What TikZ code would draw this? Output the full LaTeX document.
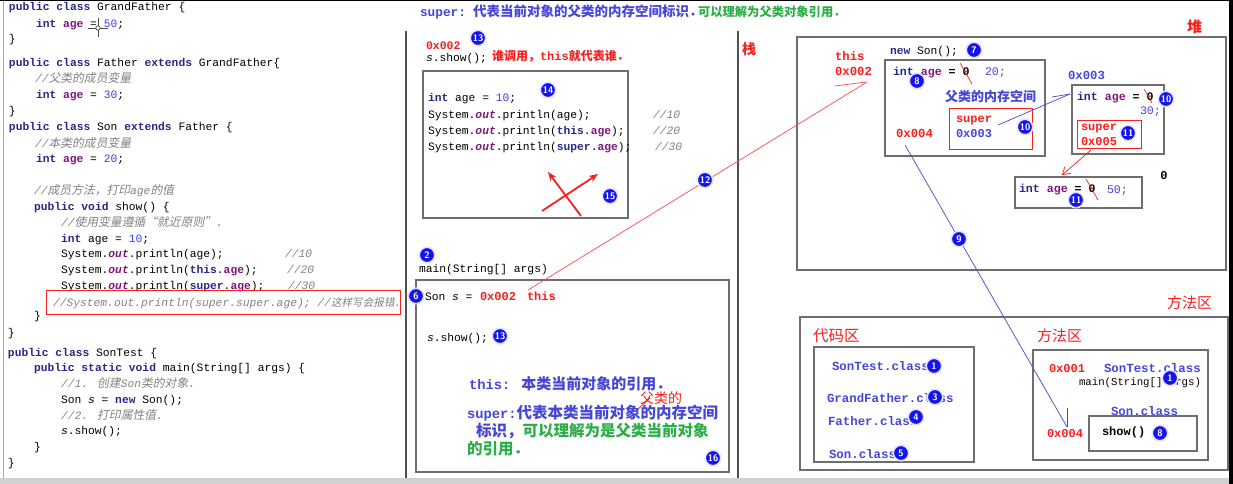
\documentclass[tikz,border=0pt]{standalone}
\usepackage{fontspec}
\setmainfont{Liberation Mono}
\newfontfamily\zh{Noto Sans CJK SC}
\newfontfamily\zhit[FakeSlant=0.2]{Noto Sans CJK SC}
\usetikzlibrary{arrows.meta}
\definecolor{kwc}{RGB}{40,40,140}
\definecolor{flc}{RGB}{128,20,128}
\definecolor{nmc}{RGB}{60,60,255}
\definecolor{cmc}{RGB}{130,130,130}
\definecolor{redA}{RGB}{250,30,30}
\definecolor{bluA}{RGB}{70,70,215}
\definecolor{grnA}{RGB}{40,175,70}
\definecolor{bdg}{RGB}{20,20,235}
\definecolor{frm}{RGB}{110,110,110}
\definecolor{pln}{RGB}{80,80,80}
\newcommand\Ckw[1]{{\color{kwc}\bfseries #1}}
\newcommand\Cfl[1]{{\color{flc}\bfseries #1}}
\newcommand\Cnm[1]{{\color{nmc}#1}}
\newcommand\Cout{{\color{flc}\bfseries\itshape out}}
\newcommand\Ccm[1]{{\color{cmc}\itshape #1}}
\newcommand\Czh[1]{{\zhit\fontsize{11.8}{13}\selectfont #1}}
\newcommand\Czhs[1]{{\zhit\fontsize{10.6}{13}\selectfont #1}}
\newcommand\fs[1]{\fontsize{#1}{#1}\selectfont}
\begin{document}
\begin{tikzpicture}[x=1pt,y=-1pt,
  T/.style={anchor=base west, inner sep=0pt, outer sep=0pt},
  code/.style={T, font=\fs{11.3}},
  hp/.style={T, font=\fs{11.6}\bfseries},
  badge/.style={circle, fill=bdg, text=white, draw=bdg!12, line width=1.6pt,
    minimum size=15.5pt, inner sep=0pt, font=\fs{9.5}\sffamily\bfseries},
  frame/.style={draw=frm, line width=1.1pt},
  redbox/.style={draw=redA, line width=0.9pt},
  rt/.style={T, text=redA},
  bt/.style={T, text=bluA},
  gt/.style={T, text=grnA}]
\useasboundingbox (0,0) rectangle (1233,484);
\fill[white] (0,0) rectangle (1233,484);
% screenshot frame
\fill[black] (0,0) rectangle (1233,1.5);
\fill[black] (1229,0) rectangle (1233,484);
\fill[black!18] (0,478) rectangle (1229,484);
\draw[black!35, line width=0.8pt] (3,1.5) -- (3,478);
\draw[pln, line width=1.1pt] (406,31) -- (406,478);
\draw[pln, line width=1.1pt] (738,31) -- (738,478);

% ---------------- left code ----------------
\node[code] (c1) at (9,11) {\Ckw{public class} GrandFather \{};
\node[code] (c2) at (36,28) {\Ckw{int} \Cfl{age} = \Cnm{50};};
\node[code] (c3) at (9,43) {\}};
\node[code] (c4) at (9,67) {\Ckw{public class} Father \Ckw{extends} GrandFather\{};
\node[code] (c5) at (35,83) {\Ccm{//\Czh{父类的成员变量}}};
\node[code] (c6) at (36,99) {\Ckw{int} \Cfl{age} = \Cnm{30};};
\node[code] (c7) at (9,114) {\}};
\node[code] (c8) at (9,130) {\Ckw{public class} Son \Ckw{extends} Father \{};
\node[code] (c9) at (35,147) {\Ccm{//\Czh{本类的成员变量}}};
\node[code] (c10) at (36,162) {\Ckw{int} \Cfl{age} = \Cnm{20};};
\node[code] (c11) at (34,194) {\Ccm{//\Czh{成员方法，打印}age\Czh{的值}}};
\node[code] (c12) at (34,210) {\Ckw{public void} show() \{};
\node[code] (c13) at (61,226) {\Ccm{//\Czh{使用变量遵循“就近原则”．}}};
\node[code] (c14) at (61,242) {\Ckw{int} age = \Cnm{10};};
\node[code] (c15) at (61,257) {System.\Cout.println(age);};
\node[code] (c15b) at (285,257) {\Ccm{//10}};
\node[code] (c16) at (61,273) {System.\Cout.println(\Ckw{this}.\Cfl{age});};
\node[code] (c16b) at (287,273) {\Ccm{//20}};
\node[code] (c17) at (61,289) {System.\Cout.println(\Ckw{super}.\Cfl{age});};
\node[code] (c17b) at (288,289) {\Ccm{//30}};
\node[code] (c18) at (53,306) {\Ccm{//System.out.println(super.super.age); //\Czhs{这样写会报错．}}};
\draw[redbox] (46,290) rectangle (400,314);
\node[code] (c19) at (34,319) {\}};
\node[code] (c20) at (8,336) {\}};
\node[code] (c21) at (8,356) {\Ckw{public class} SonTest \{};
\node[code] (c22) at (34,371) {\Ckw{public static void} main(String[] args) \{};
\node[code] (c23) at (61,387) {\Ccm{//1. \Czh{创建}Son\Czh{类的对象．}}};
\node[code] (c24) at (61,403) {Son \textit{s} = \Ckw{new} Son();};
\node[code] (c25) at (61,419) {\Ccm{//2. \Czh{打印属性值．}}};
\node[code] (c26) at (61,434) {\textit{s}.show();};
\node[code] (c27) at (34,450) {\}};
\node[code] (c28) at (8,466) {\}};
% mouse cursor
\draw[white, line width=2.4pt] (98,18) -- (98,37) (88,28) -- (108,28);
\draw[black!70, line width=0.9pt] (98,18) -- (98,37) (88,28) -- (108,28);
\draw[black!70, fill=white, line width=0.7pt] (98,28) circle (2.2pt);

% ---------------- top caption ----------------
\node[T, text=bluA, font=\fs{12.8}\bfseries] (top1) at (420,17) {super:};
\node[T, text=bluA, font=\zh\fs{13.5}\bfseries] (top2) at (473,17) {代表当前对象的父类的内存空间标识．};
\node[T, text=grnA, font=\zh\fs{12.3}\bfseries] (top3) at (698,17) {可以理解为父类对象引用．};

% ---------------- middle (stack) ----------------
\node[rt, font=\fs{11.5}\bfseries] (sa) at (426,50) {0x002};
\node[badge] (b13a) at (478,38) {13};
\node[code] (ss1) at (426,62) {\textit{s}.show();};
\node[rt, font=\zh\fs{12}\bfseries] (who) at (492,61) {谁调用，{\rmfamily this}就代表谁．};
\draw[frame] (423,71) rectangle (628,218);
\node[badge] (b14) at (548,90) {14};
\node[code] (m1) at (428,102) {\Ckw{int} age = \Cnm{10};};
\node[code] (m2) at (428,118) {System.\Cout.println(age);};
\node[code] (m3) at (428,134) {System.\Cout.println(\Ckw{this}.\Cfl{age});};
\node[code] (m4) at (428,150) {System.\Cout.println(\Ckw{super}.\Cfl{age});};
\node[code] (m2b) at (653,118) {\Ccm{//10}};
\node[code] (m3b) at (653,134) {\Ccm{//20}};
\node[code] (m4b) at (655,150) {\Ccm{//30}};
\coordinate (ar1a) at (542,211); \coordinate (ar1b) at (598,174);
\coordinate (ar2a) at (581,216); \coordinate (ar2b) at (548,172);
\draw[redA, line width=1.8pt, -{Stealth[length=9pt,width=7pt]}] (ar1a) -- (ar1b);
\draw[redA, line width=1.8pt, -{Stealth[length=9pt,width=7pt]}] (ar2a) -- (ar2b);
\node[badge] (b15) at (610,196) {15};

\node[badge] (b2) at (427,255) {2};
\node[code] (mainsigA) at (419,272) {main(String[] args)};
\draw[frame] (416,280) rectangle (729,472);
\node[code] (sons) at (425,300) {Son \textit{s} =};
\node[rt, font=\fs{12}\bfseries] (saddr) at (480,300) {0x002};
\node[rt, font=\fs{12}\bfseries] (sthis) at (527,300) {this};
\node[badge] (b6) at (416,296) {6};
\node[code] (ss2) at (427,341) {\textit{s}.show();};
\node[badge] (b13b) at (500,336) {13};
\node[bt, font=\fs{13.8}\bfseries] (tthis) at (469,389) {this: {\zh\fs{15}本类当前对象的引用．}};
\node[rt, font=\zh\fs{14}] (tfl) at (640,403) {父类的};
\draw[redA, line width=0.8pt] (637,410) -- (650,398);
\node[bt, font=\fs{13.8}\bfseries] (tsup) at (467,418) {super:{\zh\fs{15.5}代表本类当前对象的内存空间}};
\node[T, font=\zh\fs{15.5}\bfseries] (tl2) at (476,436) {{\color{bluA}标识，}{\color{grnA}可以理解为是父类当前对象}};
\node[gt, font=\zh\fs{15.5}\bfseries] (tl3) at (467,454) {的引用．};
\node[badge] (b16) at (713,458) {16};

% ---------------- heap ----------------
\node[rt, font=\zh\fs{14}\bfseries] (zhan) at (742,55) {栈};
\node[rt, font=\zh\fs{15}\bfseries] (dui) at (1187,33) {堆};
\draw[frame] (797,37) rectangle (1226,270);
\node[rt, font=\fs{12.3}\bfseries] (hthis) at (835,61) {this};
\node[rt, font=\fs{12.3}\bfseries] (haddr) at (835,76) {0x002};
\node[code] (hnew) at (890,55) {\Ckw{new} Son();};
\node[badge] (b7) at (974,50) {7};
\draw[frame] (885,60) rectangle (1045,156);
\node[hp] (hage1) at (893,76) {{\color{kwc}int} \Cfl{age} = 0};
\node[bt, font=\fs{11.6}] (h20) at (985,76) {20;};
\draw[redA, line width=0.7pt] (960,63) -- (972,84);
\node[badge] (b8a) at (917,81) {8};
\node[bt, font=\zh\fs{13}\bfseries] (hfcs) at (945,102) {父类的内存空间};
\draw[redbox] (949,108) rectangle (1032,149);
\node[rt, font=\fs{12}\bfseries] (hsup1) at (956,123) {super};
\node[bt, font=\fs{12}\bfseries] (h003a) at (956,138) {0x003};
\node[badge] (b10a) at (1025,127) {10};
\node[rt, font=\fs{12.3}\bfseries] (h004) at (896,137) {0x004};
\node[bt, font=\fs{12.3}\bfseries] (h003b) at (1068,80) {0x003};
\draw[frame] (1072,85) rectangle (1164,154);
\node[hp] (hage2) at (1077,101) {{\color{kwc}int} \Cfl{age} = 0};
\draw[redA, line width=0.7pt] (1144,89) -- (1152,103);
\node[badge] (b10b) at (1166,99) {10};
\node[bt, font=\fs{11.6}] (h30) at (1140,114) {30;};
\draw[redbox] (1077,120) rectangle (1141,148);
\node[rt, font=\fs{12}\bfseries] (hsup2) at (1081,130) {super};
\node[rt, font=\fs{12}\bfseries] (h005) at (1081,145) {0x005};
\node[badge] (b11a) at (1128,133) {11};
\draw[frame] (1015,177) rectangle (1142,208);
\node[hp] (hage3) at (1019,192) {{\color{kwc}int} \Cfl{age} = 0};
\draw[redA, line width=0.7pt] (1086,179) -- (1098,200);
\node[bt, font=\fs{11.6}] (h50) at (1107,193) {50;};
\node[badge] (b11b) at (1076,200) {11};
\node[font=\fs{12}\bfseries, inner sep=0pt] (hzero) at (1164,176) {0};

% connectors in heap
\coordinate (p12a) at (528,290); \coordinate (p12b) at (867,82);
\draw[redA!80, line width=0.7pt] (p12a) -- (p12b);
\draw[redA!80, line width=0.7pt] (835,86) -- (866,82);
\node[badge] (b12) at (705,180) {12};
\coordinate (psa) at (998,125); \coordinate (psb) at (1070,94);
\draw[bluA, line width=0.7pt] (psa) -- (psb);
\draw[bluA, line width=0.7pt] (1052,97) -- (psb);
\coordinate (pfa) at (1091,150); \coordinate (pfb) at (1062,175);
\draw[redA, line width=0.7pt, -{Straight Barb[length=7pt,width=9pt]}] (pfa) -- (pfb);
\coordinate (p9a) at (905,145); \coordinate (p9b) at (1067,427);
\draw[bluA, line width=0.7pt] (p9a) -- (p9b);
\draw[bluA, line width=0.7pt] (1067,408) -- (p9b);
\node[badge] (b9) at (959,239) {9};

% ---------------- method area ----------------
\node[rt, font=\zh\fs{15}] (fq1) at (1167,308) {方法区};
\draw[frame] (800,317) rectangle (1228,470);
\node[rt, font=\zh\fs{15.5}] (dmq) at (813,341) {代码区};
\draw[frame] (814,347) rectangle (974,462);
\node[bt, font=\fs{12.4}\bfseries] (k1) at (832,370) {SonTest.class};
\node[badge] (b1a) at (934,366) {1};
\node[bt, font=\fs{12.4}\bfseries] (k2) at (827,402) {GrandFather.class};
\node[badge] (b3) at (935,397) {3};
\node[bt, font=\fs{12.4}\bfseries] (k3) at (828,425) {Father.class};
\node[badge] (b4) at (916,417) {4};
\node[bt, font=\fs{12.4}\bfseries] (k4) at (829,458) {Son.class};
\node[badge] (b5) at (901,453) {5};
\node[rt, font=\zh\fs{15}] (fq2) at (1037,341) {方法区};
\draw[frame] (1033,350) rectangle (1208,460);
\node[rt, font=\fs{12}\bfseries] (x001) at (1049,372) {0x001};
\node[bt, font=\fs{12.4}\bfseries] (k5) at (1104,372) {SonTest.class};
\node[T, font=\fs{10.7}] (mainsigB) at (1079,385) {main(String[] args)};
\node[badge] (b1b) at (1170,378) {1};
\node[bt, font=\fs{12.4}\bfseries] (k6) at (1111,415) {Son.class};
\draw[frame] (1089,416) rectangle (1197,451);
\node[T, font=\fs{12}\bfseries] (kshow) at (1102,435) {show()};
\node[badge] (b8b) at (1160,433) {8};
\node[rt, font=\fs{12}\bfseries] (x004b) at (1047,437) {0x004};
\end{tikzpicture}
\end{document}
